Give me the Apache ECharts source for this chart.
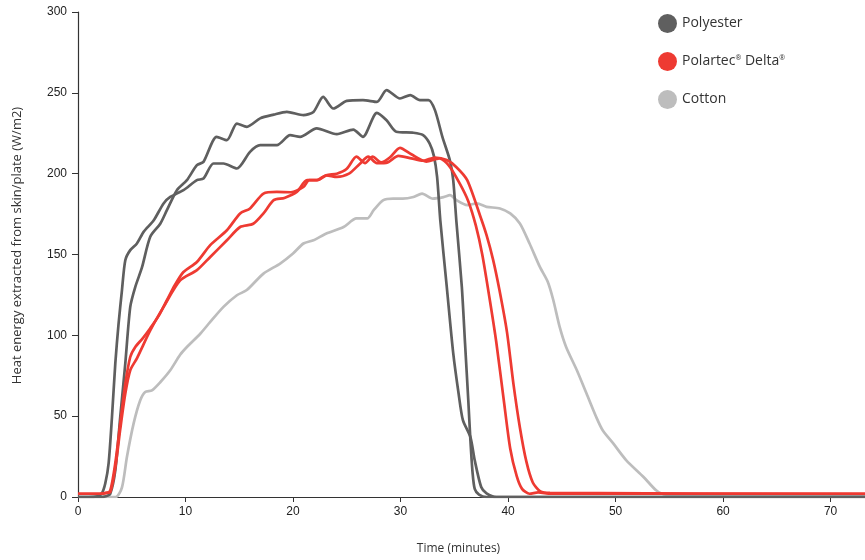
<!DOCTYPE html>
<html>
<head>
<meta charset="utf-8">
<script src="https://cdn.jsdelivr.net/npm/echarts@6/dist/echarts.min.js"></script>
<style>html,body{margin:0;padding:0;background:#fff}#c{width:865px;height:560px}</style>
</head>
<body>
<div id="c"></div>
<script>
// Time (minutes), heat energy (W/m2)
const polyester1 = [[0,0],[1,0],[1.8,0.5],[2.2,2],[2.54,8.5],[2.85,21],[3.16,49.5],[3.47,82.7],[3.77,107],[4.09,128],[4.4,146.5],[4.86,152.7],[5.48,156.8],[6.1,164],[7.03,171],[7.96,181.6],[8.58,185.6],[9.81,189.8],[11.06,196],[11.67,197],[12.6,206.3],[13.53,206.3],[14.78,203.2],[16.0,213.5],[16.94,217.6],[18.5,217.6],[19.73,223.8],[20.66,222.8],[22.2,228],[24.07,224.4],[25.6,227.3],[26.5,222.8],[27.8,237.6],[28.7,233],[29.6,225.9],[31.2,225.3],[32.1,223.8],[32.7,218.7],[33.1,211],[33.4,198],[33.7,171],[34.3,130],[34.9,89],[35.4,64],[35.8,47.5],[36.5,37],[36.9,22.7],[37.5,6.2],[38.0,2.3],[38.9,0],[73.2,0]];
const polyester2 = [[0,0],[1,0],[2,0],[2.6,0.5],[3.0,2],[3.47,16.5],[3.93,49.5],[4.4,82.7],[4.86,117.6],[5.33,130],[5.95,142],[6.72,161],[7.65,169],[8.27,177.4],[9.2,189.8],[10.13,196],[11.06,205.3],[11.67,207.3],[12.9,222.8],[13.85,220.7],[14.78,231],[15.7,229],[16.94,234.2],[18.2,236.5],[19.42,238.2],[20.97,236.2],[21.9,238.2],[22.8,247.5],[23.75,240.3],[25.0,245],[26.5,245.5],[27.8,244.4],[28.7,251.7],[29.95,246.5],[30.9,248.6],[31.8,245.5],[32.6,245.5],[33.2,239.3],[33.9,222.6],[34.6,208],[34.9,196],[35.2,170],[35.7,130],[36.0,95],[36.3,60],[36.5,35],[36.7,15],[36.9,5],[37.3,1.5],[38.0,0],[73.2,0]];
const delta1 = [[0,2],[1,2],[2,2],[2.6,2.5],[3.0,4],[3.47,21],[3.93,45.6],[4.4,70],[4.86,86.6],[5.33,92.8],[6.0,98],[6.72,104.4],[7.5,112],[8.27,121.7],[9.0,131],[9.81,139.2],[11.06,145.4],[12.3,155.8],[13.85,165],[15.08,175.4],[16.0,178.5],[17.25,187.7],[18.5,188.7],[19.8,188.5],[20.97,191.8],[21.5,196],[22.3,196],[23.1,199],[24.07,200],[25.0,203],[25.9,210.5],[26.7,206.5],[27.4,210.5],[28.2,207],[29.0,210],[29.95,216],[31.0,212],[32.4,207.5],[33.6,209.5],[34.5,205],[35.5,194],[36.3,183],[37.0,168],[37.6,150],[38.3,122],[38.9,96],[39.6,60],[40.2,30],[40.8,13],[41.3,5],[42.0,2],[42.8,2.8],[44,2],[73.2,2]];
const delta2 = [[0,2],[1,2],[2,2],[2.6,2.5],[3.0,3],[3.47,18],[3.93,42],[4.4,64],[4.86,78.4],[5.48,85.8],[6.72,103],[7.96,117.6],[9.5,134],[11.06,140.3],[12.3,148.5],[13.85,158.8],[15.08,167],[16.3,169],[17.25,175.4],[18.2,183.6],[19.2,185],[20.35,188.7],[21.3,196],[22.2,196],[23.1,199],[24.07,198],[25.2,200],[26.2,206],[27.0,210.5],[27.8,206.5],[28.8,207],[29.8,211],[31.0,209.5],[32.1,208],[33.2,210],[34.3,208.4],[35.2,204],[36.2,196],[37.4,174],[38.0,162],[38.6,147],[39.2,128],[39.9,102],[40.5,70],[41.1,43],[41.7,22],[42.3,9],[43.0,3.5],[43.9,2.5],[73.2,2]];
const cotton = [[0,0],[3.5,0],[4.09,6],[4.55,24.8],[5.17,45.4],[5.79,59.8],[6.25,65],[6.88,66],[7.65,71],[8.58,78.4],[9.5,88],[10.13,92.8],[11.37,101],[12.3,108.3],[13.53,117.6],[14.78,124.8],[15.7,128],[17.25,138.2],[18.8,144.4],[20.0,150.6],[20.97,156.8],[21.9,158.8],[23.1,163],[24.7,167],[25.9,172.3],[26.9,172.3],[27.5,177.4],[28.4,183.6],[29.3,184.6],[30.2,184.6],[31.2,185.6],[32.0,187.7],[33.0,184.6],[34.0,185.5],[34.6,186.7],[35.2,183.6],[36.2,180.5],[37.1,181.6],[38.0,179.5],[39.25,178.5],[40.2,175.4],[41.1,169.2],[42.0,156.8],[42.96,142.3],[43.7,133],[44.2,122],[44.8,105.2],[45.4,92.8],[46.4,78.4],[47.3,64],[48.2,49.5],[48.8,41.3],[49.8,33],[51.0,22.7],[52.6,12.4],[53.8,4],[54.7,1.5],[73.2,1.5]];
const legendNames = ['Polyester', 'Polartec® Delta®', 'Cotton'];

const cPoly = '#5f5f5f', cDelta = '#ee3a32', cCotton = '#bdbdbd';
const chart = echarts.init(document.getElementById('c'));
function line(name, data, color, z) {
  return { name, type: 'line', data, smooth: 0.25, showSymbol: false, symbol: 'none', z,
    lineStyle: { color, width: 2.7 }, itemStyle: { color } };
}
chart.setOption({
  animation: false,
  grid: { left: 78, right: 0, top: 12, bottom: 63 },
  legend: {
    data: legendNames, orient: 'vertical', left: 653, top: 9, itemWidth: 19, itemHeight: 19, itemGap: 19,
    icon: 'circle',
    textStyle: { fontFamily: 'Open Sans', fontSize: 14, color: '#333',
      rich: { sup: { fontSize: 7, verticalAlign: 'top', padding: [0,0,8,0], fontFamily: 'Open Sans', color: '#333' } } },
    formatter: n => n.replace(/®/g, '{sup|®}')
  },
  xAxis: {
    type: 'value', min: 0, max: 73.2, interval: 10,
    name: 'Time (minutes)', nameLocation: 'middle', nameGap: 46,
    nameTextStyle: { fontFamily: 'Open Sans', fontSize: 12, color: '#333', padding: [0, 26, 0, 0] },
    axisLine: { show: true, lineStyle: { color: '#333', width: 1.2 } },
    axisTick: { show: true, length: 5, lineStyle: { color: '#333' } },
    axisLabel: { fontFamily: 'Liberation Sans', fontSize: 12, color: '#222', margin: 9, showMaxLabel: false },
    splitLine: { show: false }
  },
  yAxis: {
    type: 'value', min: 0, max: 300, interval: 50,
    name: 'Heat energy extracted from skin/plate (W/m2)', nameLocation: 'middle', nameGap: 54,
    nameTextStyle: { fontFamily: 'Open Sans', fontSize: 13, color: '#333', padding: [0, 0, 0, 18] },
    axisLine: { show: true, lineStyle: { color: '#333', width: 1.2 } },
    axisTick: { show: true, length: 6, lineStyle: { color: '#333' } },
    axisLabel: { fontFamily: 'Liberation Sans', fontSize: 12, color: '#222', margin: 11 },
    splitLine: { show: false }
  },
  series: [
    line('Polyester', polyester1, cPoly, 3),
    line('Polyester', polyester2, cPoly, 3),
    line('Polartec® Delta®', delta1, cDelta, 4),
    line('Polartec® Delta®', delta2, cDelta, 4),
    line('Cotton', cotton, cCotton, 2)
  ]
});
</script>
</body>
</html>
